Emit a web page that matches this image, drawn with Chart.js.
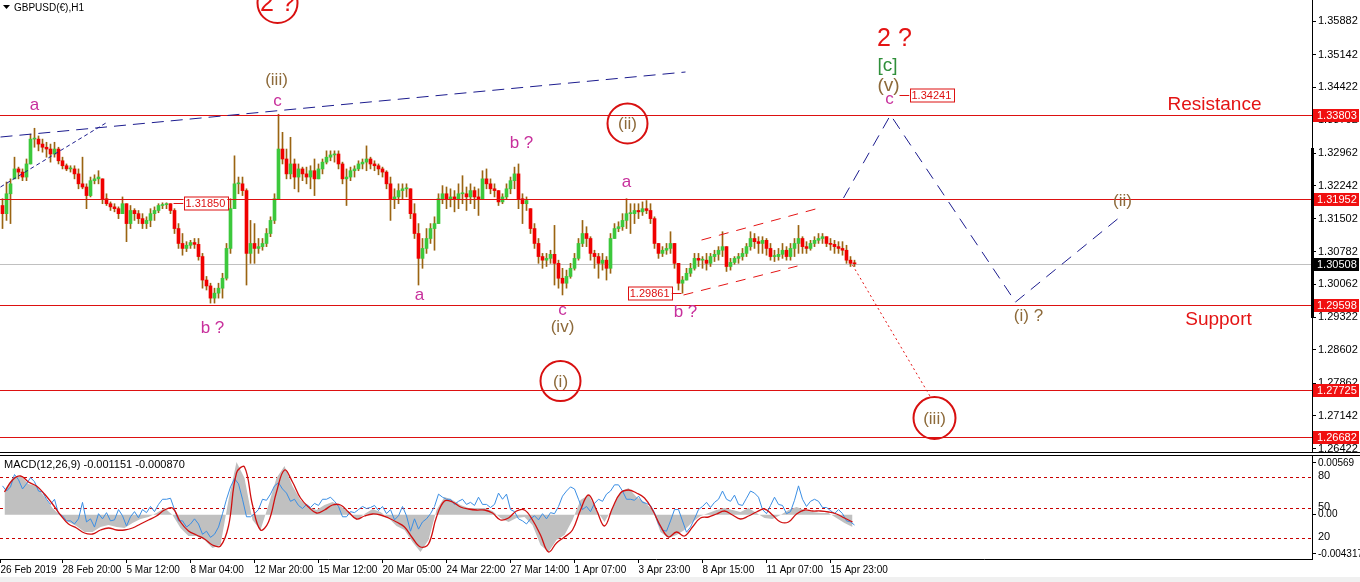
<!DOCTYPE html>
<html>
<head>
<meta charset="utf-8">
<script src="https://cdn.jsdelivr.net/npm/chart.js@4.4.1/dist/chart.umd.min.js"></script>
<style>
  html, body { margin: 0; padding: 0; background: #fff; }
  #wrap { position: relative; width: 1360px; height: 582px; overflow: hidden; background: #fff; }
  #main { position: absolute; left: 0; top: 0; }
  #osc { position: absolute; left: 0; top: 454px; }
  #foot { position: absolute; left: 0; top: 577px; width: 1360px; height: 5px; background: #f0f0f0; }
</style>
</head>
<body>
<div id="wrap">
  <canvas id="main" width="1360" height="454"></canvas>
  <canvas id="osc" width="1360" height="128"></canvas>
  <div id="foot"></div>
</div>
<script>
// GBPUSD H1, resampled to 4-hour bars. Prices in pips above 1.30000
const firstOpenPips = 180;
const highPips = [
  195,232,239,287,265,261,283,338,351,334, 327,320,316,320,309,287,272,268,268,261,
  287,228,243,248,257,239,206,188,184,177, 199,184,180,173,169,162,155,173,177,184,
  186,186,184,173,140,118,100,103,107,107, 74,23,8,-3,8,30,96,195,290,243,
  243,217,147,140,107,107,129,155,206,382, 342,305,331,283,272,265,265,268,283,272,
  283,301,301,301,301,276,261,265,268,279, 283,312,287,279,272,265,257,243,217,228,
  228,228,217,184,140,107,129,140,155,206, 224,221,217,213,228,246,221,228,221,217,
  257,261,239,228,213,206,228,243,265,272, 206,199,173,140,107,74,74,81,136,59,
  41,37,52,74,107,147,133,111,81,74, 74,67,118,140,144,162,195,184,184,184,
  188,191,184,155,96,89,96,122,96,52, 23,41,52,74,74,67,74,74,81,89,
  122,89,63,67,74,85,96,122,118,111, 111,107,96,81,85,96,89,96,107,136,
  111,100,103,111,118,118,111,107,103,100, 100,92,67,59
];
const lowPips = [
  129,147,140,239,239,235,235,272,309,301, 298,287,276,287,272,261,257,254,239,217,
  217,173,199,228,228,184,180,169,166,151, 162,100,129,147,140,129,129,133,147,164,
  173,173,162,118,85,70,78,85,85,59, -3,-7,-36,-36,-25,-25,15,74,173,206,
  202,4,52,52,74,81,89,111,140,195, 272,239,239,217,210,235,228,217,202,239,
  250,272,279,276,261,228,180,235,243,257, 261,257,261,257,248,243,217,147,173,184,
  195,199,151,107,4,41,74,96,81,140, 184,173,177,166,173,184,169,184,173,158,
  195,217,206,199,180,184,195,206,217,173, 140,169,118,85,52,41,45,52,4,-3,
  -18,-3,19,37,59,89,89,59,41,19, 37,15,30,107,122,125,129,118,140,151,
  158,162,140,85,63,67,72,74,41,-7, -14,15,23,37,45,41,37,45,56,59,
  67,34,37,50,52,59,67,81,85,74, 74,70,59,56,59,63,59,59,67,74,
  74,74,81,89,96,96,89,81,74,74, 70,52,45,45
];
const closePips = [
  162,206,228,261,254,243,272,327,327,316, 309,305,294,305,279,268,261,261,250,228,
  221,202,235,239,243,195,184,177,173,162, 184,140,169,162,151,140,147,162,169,180,
  182,184,169,129,96,85,92,98,94,67, 15,2,-25,-14,-3,19,85,173,228,228,
  213,74,96,85,89,96,118,147,195,305, 283,250,272,243,261,250,243,257,239,261,
  276,287,292,294,272,239,243,257,261,272, 276,283,272,268,261,254,228,195,199,213,
  217,217,162,118,63,85,107,129,140,195, 206,195,199,195,206,206,199,213,199,195,
  239,228,217,213,188,199,217,235,250,195, 184,191,129,96,67,59,63,72,52,19,
  8,23,41,63,96,118,107,74,67,52, 59,41,107,129,133,147,162,162,169,166,
  173,169,151,96,74,81,85,96,52,8, 15,30,41,63,59,59,52,67,72,81,
  89,45,54,63,67,74,89,107,100,96, 103,85,67,67,72,81,67,85,96,107,
  89,85,96,103,107,111,96,94,89,85, 81,59,52,51
];
const HOURS_PER_BAR = 4;

// MACD(12,26,9) main and signal, in units of 0.00001, one value per 8 hours
const macdMain = [
  272,404,426,338,316,195,74,-14,-80,-124, -190,-190,-135,-113,-135,-146,-91,-47,-25,19,
  74,-3,-146,-234,-234,-278,-366,-333,162,580, 404,-58,-168,107,404,536,316,162,85,52,
  107,140,96,30,-58,8,63,30,-36,-124, -168,-300,-410,-278,52,195,162,107,74,74,
  74,41,-36,-80,-36,-25,-113,-333,-410,-278, -223,-58,162,217,52,-80,74,250,294,195,
  140,52,-190,-256,-223,-168,-80,-14,19,52, 74,52,30,74,19,-36,-47,-3,52,85,
  52,30,19,19,-36,-91,-135
];
const macdSignal = [
  250,382,426,360,316,228,118,-3,-102,-146, -201,-212,-168,-146,-168,-168,-146,-102,-58,-14,
  52,74,-80,-179,-223,-267,-333,-344,-124,459, 525,107,-168,-80,250,492,360,184,85,19,
  52,107,107,30,-47,-14,8,-3,-36,-80, -135,-256,-355,-322,-25,151,140,85,63,52,
  52,19,-58,-36,41,52,-58,-223,-410,-311, -245,-168,52,217,52,-124,74,239,272,239,
  184,52,-124,-245,-190,-234,-135,-36,-25,8, 41,-3,-47,-14,30,63,-3,-80,-80,8,
  52,41,41,30,8,-36,-80
];
const MACD_HOURS = 8;
// overlay oscillator (0..100), one value per 4 hours
const oscLine = [
  71,66,70,82,77,68,73,79,75,66, 65,58,53,58,44,42,37,37,34,39,
  55,36,39,31,44,39,45,37,38,48, 42,32,41,46,40,48,45,51,46,53,
  58,58,59,48,37,37,31,34,39,34, 24,27,21,24,31,44,58,70,78,73,
  58,41,41,44,48,58,57,63,71,74, 68,64,56,58,52,49,53,50,54,52,
  58,58,60,56,51,41,41,46,45,48, 51,49,50,52,47,51,44,48,38,42,
  51,42,27,39,29,36,39,44,51,63, 60,58,58,53,56,58,53,55,52,60,
  53,53,50,53,64,58,63,48,46,39, 37,34,39,42,38,44,39,45,44,51,
  61,66,70,68,58,48,51,46,54,58, 56,63,66,72,72,66,58,58,57,61,
  55,54,52,45,34,28,27,37,48,48, 37,26,31,39,48,51,55,50,55,58,
  66,58,56,62,53,52,59,66,64,60, 48,44,52,60,53,52,44,46,57,71,
  58,51,56,58,56,50,50,47,44,48, 44,37,36,33
];
const oscLevels = [80, 50, 20];

// axes
const priceTicks = [1.35882,1.35142,1.34422,1.33702,1.32962,1.32242,1.31502,1.30782,1.30062,1.29322,1.28602,1.27862,1.27142,1.26422];
const levels = [1.33803, 1.31952, 1.29598, 1.27725, 1.26682];
const lastPrice = 1.30508;
const timeTickBars = [0, 62, 126, 190, 254, 318, 382, 446, 510, 574, 638, 702, 766, 830];
const timeLabels = ['26 Feb 2019','28 Feb 20:00','5 Mar 12:00','8 Mar 04:00','12 Mar 20:00','15 Mar 12:00','20 Mar 05:00','24 Mar 22:00','27 Mar 14:00','1 Apr 07:00','3 Apr 23:00','8 Apr 15:00','11 Apr 07:00','15 Apr 23:00'];
const macdTicks = [0.00569, 0, -0.004317];
const macdTickLabels = ['0.00569', '0.00', '-0.004317'];

const FONT = '"Liberation Sans", Arial, sans-serif';
const MAG = '#c8309c', BROWN = '#8d6a3a', RED = '#e41414', GREEN = '#2f8f3a', NAVY = '#1c1c8e';
const UP = '#3cc83c', DOWN = '#f00000', WICK = '#9a6412';

// wave annotations: bar index, price, text, colour, px size
const waveText = [
  [34, 1.34015, 'a', MAG, 17],
  [276, 1.34578, '(iii)', BROWN, 17],
  [277, 1.34104, 'c', MAG, 17],
  [212, 1.29088, 'b ?', MAG, 17],
  [521, 1.33184, 'b ?', MAG, 17],
  [419, 1.29819, 'a', MAG, 17],
  [626, 1.32320, 'a', MAG, 17],
  [562, 1.29487, 'c', MAG, 17],
  [562, 1.29110, '(iv)', BROWN, 17],
  [685, 1.29442, 'b ?', MAG, 17],
  [894, 1.35486, '2 ?', RED, 25],
  [887, 1.34888, '[c]', GREEN, 19],
  [888, 1.34446, '(v)', BROWN, 19],
  [889, 1.34158, 'c', MAG, 17],
  [1214, 1.34025, 'Resistance', RED, 19],
  [1218, 1.29265, 'Support', RED, 19],
  [1122, 1.31900, '(ii)', BROWN, 17],
  [1028, 1.29354, '(i) ?', BROWN, 17]
];
const circled = [
  [277, 1.36283, '2 ?', RED, 25, 20],
  [627, 1.33615, '(ii)', BROWN, 17, 20],
  [560, 1.27915, '(i)', BROWN, 17, 20],
  [934, 1.27096, '(iii)', BROWN, 17, 21]
];
const trendLines = [
  { pts: [[0, 1.33316], [685, 1.34755]], color: NAVY, dash: [12, 7] },
  { pts: [[0, 1.32210], [107, 1.33648]], color: NAVY, dash: [4, 3] },
  { pts: [[843, 1.31966], [890, 1.33803], [1015, 1.29664], [1117, 1.31501]], color: NAVY, dash: [12, 8] },
  { pts: [[852, 1.30483], [930, 1.27561]], color: RED, dash: [2, 3] },
  { pts: [[701, 1.31036], [815, 1.31722]], color: RED, dash: [10, 8] },
  { pts: [[683, 1.29819], [797, 1.30461]], color: RED, dash: [10, 8] }
];
const priceTags = [
  { text: '1.31850', bar: 173, price: 1.31850, side: 1 },
  { text: '1.29861', bar: 681, price: 1.29861, side: -1 },
  { text: '1.34241', bar: 899, price: 1.34241, side: 1 }
];

const toPrice = p => 1.3 + p / 10000;
const candles = highPips.map((h, j) => {
  const lo = lowPips[j], cl = closePips[j];
  let op = j ? closePips[j - 1] : firstOpenPips;
  op = Math.min(Math.max(op, lo), h);
  return { x: j * HOURS_PER_BAR + HOURS_PER_BAR / 2, lo: toPrice(lo), hi: toPrice(h), op: toPrice(op), cl: toPrice(cl) };
});

// keep chart areas flush with the canvas edges
const noPad = s => { s.paddingTop = 0; s.paddingBottom = 0; s.paddingLeft = 0; s.paddingRight = 0; };

function text(ctx, s, x, y, color, size, align) {
  ctx.fillStyle = color;
  ctx.font = size + 'px ' + FONT;
  ctx.textAlign = align || 'center';
  ctx.textBaseline = 'middle';
  ctx.fillText(s, x, y);
}

const mainOverlay = {
  id: 'mainOverlay',
  beforeDatasetsDraw(chart) {
    const { ctx, chartArea: a, scales: { y } } = chart;
    ctx.save();
    ctx.lineWidth = 1;
    const gy = Math.round(y.getPixelForValue(lastPrice)) + 0.5;
    ctx.strokeStyle = '#c0c0c0';
    ctx.beginPath(); ctx.moveTo(a.left, gy); ctx.lineTo(a.right, gy); ctx.stroke();
    ctx.restore();
  },
  afterDatasetsDraw(chart) {
    const { ctx, chartArea: a, scales: { x, y } } = chart;
    const px = v => x.getPixelForValue(v), py = v => y.getPixelForValue(v);
    ctx.save();
    ctx.beginPath(); ctx.rect(a.left, 0, a.right - a.left, a.bottom); ctx.clip();
    ctx.lineWidth = 1;
    ctx.strokeStyle = '#dd1111';
    levels.forEach(l => {
      const yy = Math.round(py(l)) + 0.5;
      ctx.beginPath(); ctx.moveTo(a.left, yy); ctx.lineTo(a.right, yy); ctx.stroke();
    });
    trendLines.forEach(t => {
      ctx.strokeStyle = t.color; ctx.setLineDash(t.dash);
      ctx.beginPath();
      t.pts.forEach(([b, p], i) => i ? ctx.lineTo(px(b), py(p)) : ctx.moveTo(px(b), py(p)));
      ctx.stroke();
    });
    ctx.setLineDash([]);
    priceTags.forEach(t => {
      const ax = px(t.bar), ay = Math.round(py(t.price)) + 0.5;
      ctx.font = '11px ' + FONT;
      const w = ctx.measureText(t.text).width + 4, h = 13;
      const bx = t.side > 0 ? ax + 10 : ax - 10 - w;
      ctx.strokeStyle = '#dd1111';
      ctx.beginPath();
      ctx.moveTo(ax, ay); ctx.lineTo(t.side > 0 ? bx : bx + w, ay); ctx.stroke();
      ctx.fillStyle = '#fff';
      ctx.fillRect(bx, ay - h / 2, w, h);
      ctx.strokeRect(Math.round(bx) + 0.5, Math.round(ay - h / 2), Math.round(w), h);
      text(ctx, t.text, bx + w / 2, ay + 0.5, '#dd1111', 11);
    });
    waveText.forEach(([b, p, s, c, sz]) => text(ctx, s, px(b), py(p), c, sz));
    circled.forEach(([b, p, s, c, sz, r]) => {
      const cx = px(b), cy = py(p);
      ctx.strokeStyle = '#d81010'; ctx.lineWidth = 2;
      ctx.beginPath(); ctx.arc(cx, cy, r, 0, Math.PI * 2); ctx.stroke();
      text(ctx, s, cx, cy + 1, c, sz);
    });
    ctx.restore();
  },
  afterDraw(chart) {
    const { ctx, chartArea: a, scales: { y } } = chart;
    ctx.save();
    // header
    ctx.fillStyle = '#000';
    ctx.beginPath(); ctx.moveTo(3, 5); ctx.lineTo(10, 5); ctx.lineTo(6.5, 9); ctx.closePath(); ctx.fill();
    text(ctx, 'GBPUSD(€),H1', 14, 8, '#000', 10, 'left');
    // price boxes on the scale
    const tag = (v, bg) => {
      const yy = Math.round(y.getPixelForValue(v));
      ctx.fillStyle = bg;
      ctx.fillRect(a.right + 1, yy - 6, 46, 13);
      text(ctx, v.toFixed(5), a.right + 5, yy + 1, '#fff', 11, 'left');
    };
    levels.forEach(l => tag(l, '#f01010'));
    tag(lastPrice, '#000');
    ctx.fillStyle = '#000';
    ctx.fillRect(a.right - 1, 148, 3, 170);
    ctx.fillRect(0, a.bottom, chart.width, 1);
    ctx.restore();
  }
};

new Chart(document.getElementById('main'), {
  type: 'bar',
  data: {
    datasets: [
      {
        data: candles.map(c => ({ x: c.x, y: [c.op, c.cl] })),
        backgroundColor: ctx => (ctx.raw.y[1] >= ctx.raw.y[0] ? UP : DOWN),
        barThickness: 3, minBarLength: 1, grouped: false, order: 1
      },
      {
        data: candles.map(c => ({ x: c.x, y: [c.lo, c.hi] })),
        backgroundColor: WICK,
        barThickness: 1, grouped: false, order: 2
      }
    ]
  },
  options: {
    responsive: false, animation: false, devicePixelRatio: 1,
    layout: { padding: { left: 0, right: 0, top: 0, bottom: 2 } },
    plugins: { legend: { display: false }, tooltip: { enabled: false } },
    scales: {
      x: { type: 'linear', offset: false, min: -0.5, max: 1311.5, display: false },
      y: {
        type: 'linear', position: 'right', min: 1.26344, max: 1.36349,
        afterFit: s => { s.width = 48; noPad(s); },
        afterBuildTicks: s => { s.ticks = priceTicks.map(v => ({ value: v })); },
        ticks: { callback: v => v.toFixed(5), color: '#000', font: { family: FONT, size: 11 }, padding: 2, autoSkip: false },
        grid: { drawOnChartArea: false, tickLength: 4, color: '#000' },
        border: { color: '#000' }
      }
    }
  },
  plugins: [mainOverlay]
});

const oscOverlay = {
  id: 'oscOverlay',
  beforeDatasetsDraw(chart) {
    const { ctx, chartArea: a, scales: { b } } = chart;
    ctx.save();
    ctx.strokeStyle = '#c80000'; ctx.lineWidth = 1; ctx.setLineDash([3, 3]);
    oscLevels.forEach(l => {
      const yy = Math.round(b.getPixelForValue(l)) + 0.5;
      ctx.beginPath(); ctx.moveTo(a.left, yy); ctx.lineTo(a.right, yy); ctx.stroke();
    });
    ctx.restore();
  },
  afterDraw(chart) {
    const { ctx, chartArea: a, scales: { b } } = chart;
    ctx.save();
    ctx.fillStyle = '#000';
    ctx.fillRect(0, a.top - 1, chart.width, 1);
    text(ctx, 'MACD(12,26,9) -0.001151 -0.000870', 4, a.top + 9, '#000', 11, 'left');
    oscLevels.forEach(l => text(ctx, String(l), a.right + 6, b.getPixelForValue(l) - 1, '#000', 11, 'left'));
    ctx.restore();
  }
};

new Chart(document.getElementById('osc'), {
  type: 'line',
  data: {
    datasets: [
      {
        data: macdMain.map((v, k) => ({ x: k * MACD_HOURS + MACD_HOURS / 2, y: v / 1e5 })),
        yAxisID: 'm', fill: 'origin', backgroundColor: '#c0c0c0', borderWidth: 0, pointRadius: 0, order: 3
      },
      {
        data: oscLine.map((v, j) => ({ x: j * HOURS_PER_BAR + HOURS_PER_BAR / 2, y: v })),
        yAxisID: 'b', borderColor: '#3a8ee4', borderWidth: 1, pointRadius: 0, fill: false, order: 2
      },
      {
        data: macdSignal.map((v, k) => ({ x: k * MACD_HOURS + MACD_HOURS / 2, y: v / 1e5 })),
        yAxisID: 'm', borderColor: '#d01010', borderWidth: 1.3, pointRadius: 0, tension: 0.4, fill: false, order: 1
      }
    ]
  },
  options: {
    responsive: false, animation: false, devicePixelRatio: 1,
    layout: { padding: { left: 0, right: 0, top: 2, bottom: 0 } },
    plugins: { legend: { display: false }, tooltip: { enabled: false } },
    scales: {
      x: {
        type: 'linear', offset: false, min: -0.5, max: 1311.5,
        afterFit: s => { s.height = 23; noPad(s); },
        afterBuildTicks: s => { s.ticks = timeTickBars.map(v => ({ value: v })); },
        ticks: { align: 'start', autoSkip: false, maxRotation: 0, padding: 1, color: '#000', font: { family: FONT, size: 10 }, callback: (v, i) => timeLabels[i] },
        grid: { drawOnChartArea: false, tickLength: 4, color: '#000' },
        border: { color: '#000' }
      },
      m: {
        type: 'linear', position: 'right', min: -0.00487, max: 0.00646,
        afterFit: s => { s.width = 48; noPad(s); },
        afterBuildTicks: s => { s.ticks = macdTicks.map(v => ({ value: v })); },
        ticks: { color: '#000', font: { family: FONT, size: 10 }, padding: 2, callback: (v, i) => macdTickLabels[i] },
        grid: { drawOnChartArea: false, tickLength: 4, color: '#000' },
        border: { color: '#000' }
      },
      b: { type: 'linear', display: false, min: 0, max: 100 }
    }
  },
  plugins: [oscOverlay]
});
</script>
</body>
</html>
